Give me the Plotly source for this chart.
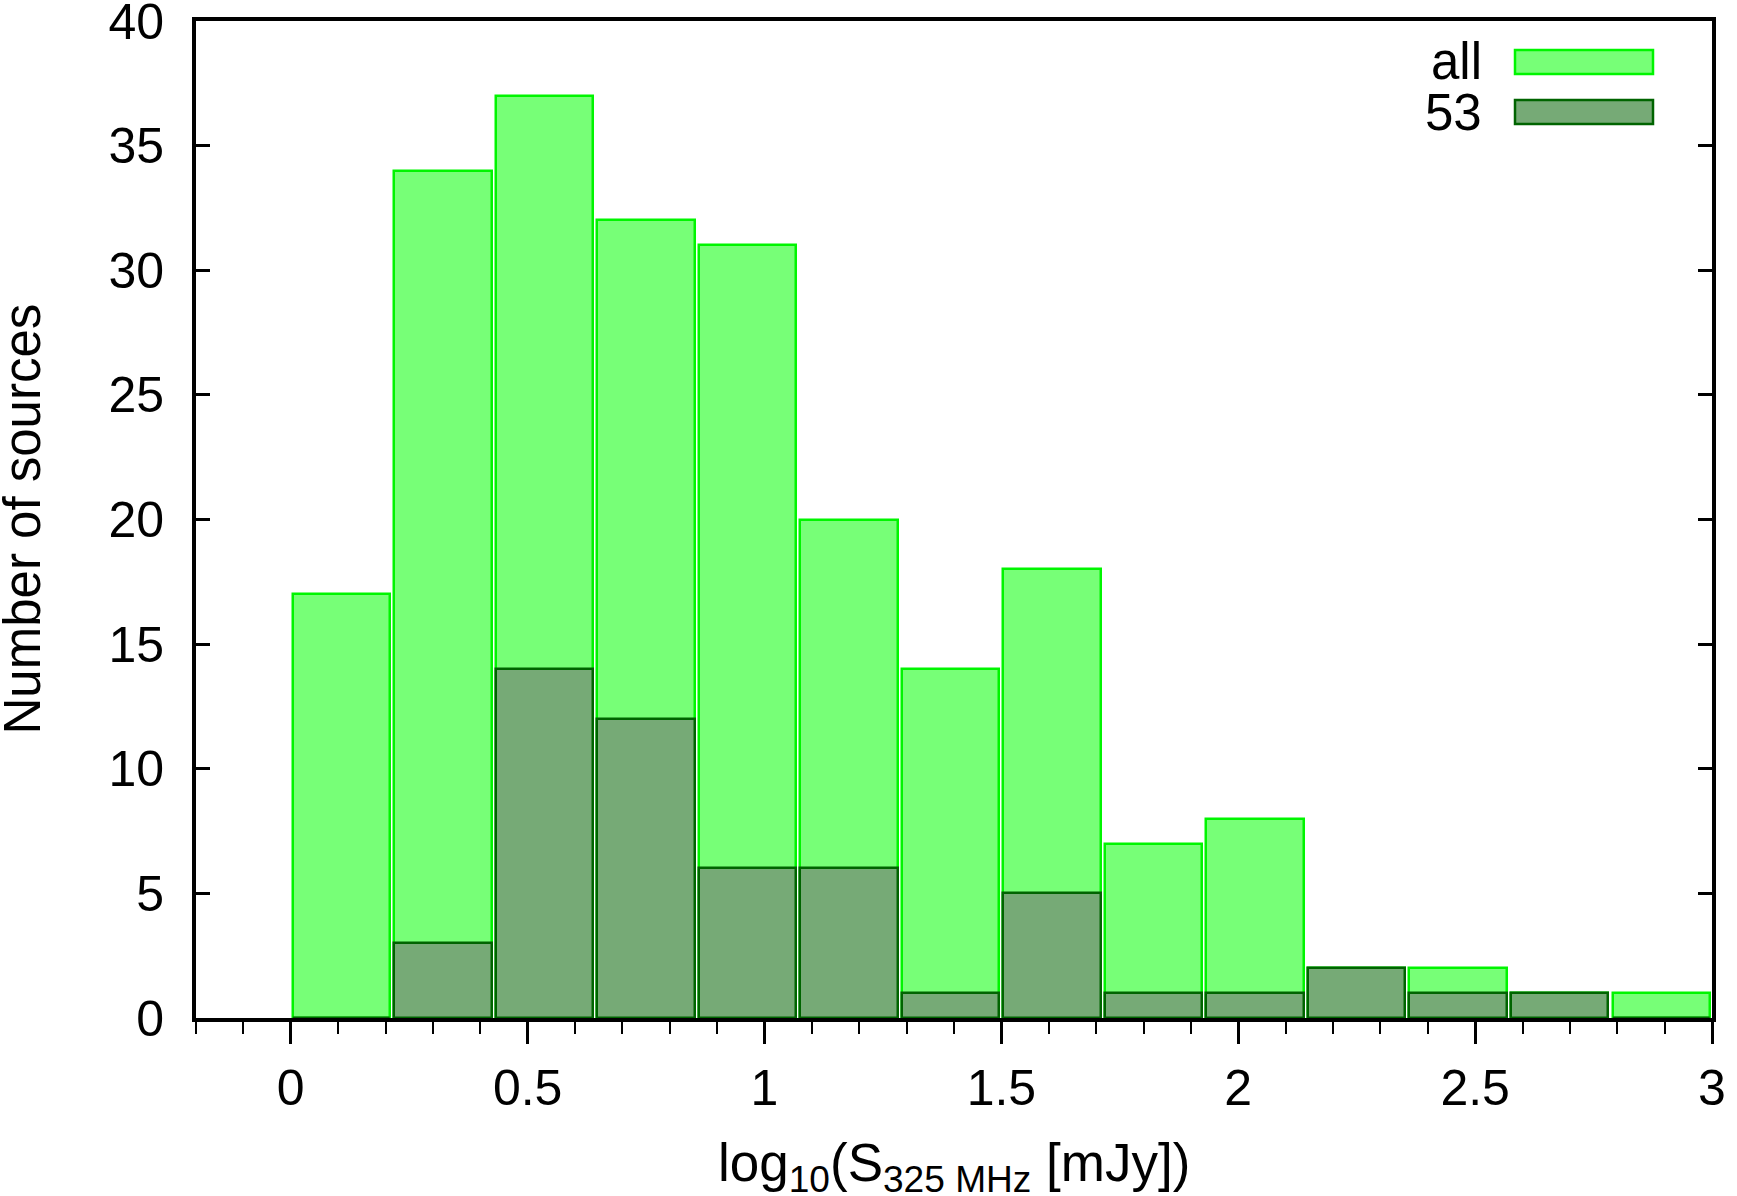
import plotly.graph_objects as go

# Histogram data (14 bins between 0 and 3)
bin_lo = 0.0
bin_hi = 3.0
n_bins = 14
counts_all = [17, 34, 37, 32, 31, 20, 14, 18, 7, 8, 2, 2, 1, 1]
counts_53 = [0, 3, 14, 12, 6, 6, 1, 5, 1, 1, 2, 1, 1, 0]
series_names = ["all", "53"]
x_title = "log<sub>10</sub>(S<sub>325 MHz</sub> [mJy])"
y_title = "Number of sources"

width = (bin_hi - bin_lo) / n_bins
centers = [bin_lo + (i + 0.5) * width for i in range(n_bins)]

FONT = "Liberation Sans, Arial, Helvetica, sans-serif"
fill_all = "rgb(119,255,119)"
line_all = "rgb(0,245,0)"
fill_53 = "rgb(118,170,118)"
line_53 = "rgb(0,100,0)"

fig = go.Figure()
fig.add_trace(go.Bar(x=centers, y=counts_all, width=[width * 0.96] * n_bins,
                     name=series_names[0],
                     marker=dict(color=fill_all, line=dict(color=line_all, width=2.5)),
                     showlegend=False))
fig.add_trace(go.Bar(x=centers, y=counts_53, width=[width * 0.96] * n_bins,
                     name=series_names[1],
                     marker=dict(color=fill_53, line=dict(color=line_53, width=2.5)),
                     showlegend=False))

# Plot area in screen px
W, H = 1737, 1196
PL, PR, PT, PB = 196, 1712, 21, 1018
def px(x):
    return (x - PL) / (PR - PL)
def py(y):
    return (PB - y) / (PB - PT)

# Manual legend (text to the left of swatch, gnuplot style)
legend_rows = [(series_names[0], fill_all, line_all, 62),
               (series_names[1], fill_53, line_53, 112)]
for name, fc, lc, yc in legend_rows:
    fig.add_annotation(xref="paper", yref="paper",
                       x=px(1484), y=py(yc),
                       text=name, showarrow=False, xanchor="right", yanchor="middle",
                       font=dict(family=FONT, size=51, color="black"))
    fig.add_shape(type="rect", xref="paper", yref="paper",
                  x0=px(1515), x1=px(1653), y0=py(yc + 12), y1=py(yc - 12),
                  fillcolor=fc, line=dict(color=lc, width=2.5))

# Axis titles as annotations (exact placement)
fig.add_annotation(xref="paper", yref="paper", x=px(22), y=0.5, text=y_title,
                   textangle=-90, showarrow=False, xanchor="center", yanchor="middle",
                   font=dict(family=FONT, size=51, color="black"))
fig.add_annotation(xref="paper", yref="paper", x=0.5, y=py(1131), text=x_title,
                   showarrow=False, xanchor="center", yanchor="top",
                   font=dict(family=FONT, size=53, color="black"))

fig.update_layout(
    width=W, height=H,
    barmode="overlay", bargap=0,
    plot_bgcolor="white", paper_bgcolor="white",
    margin=dict(l=PL, r=W - PR, t=PT, b=H - PB),
    font=dict(family=FONT, size=50, color="black"),
)
fig.update_xaxes(
    range=[-0.2, 3.0], tickvals=[0, 0.5, 1, 1.5, 2, 2.5, 3],
    ticktext=["0", "0.5", "1", "1.5", "2", "2.5", "3"],
    ticks="outside", ticklen=22, tickwidth=2.5, tickcolor="black",
    minor=dict(dtick=0.1, tick0=0, ticks="outside", ticklen=12, tickwidth=2, tickcolor="black"),
    showline=True, linecolor="black", linewidth=4, mirror=True,
    showgrid=False, zeroline=False,
    ticklabelstandoff=1, ticklabeloverflow="allow",
    automargin=False,
)
fig.update_yaxes(
    range=[0, 40], tickvals=[0, 5, 10, 15, 20, 25, 30, 35, 40],
    ticks="inside", ticklen=14, tickwidth=2.5, tickcolor="black",
    showline=True, linecolor="black", linewidth=4, mirror="ticks",
    showgrid=False, zeroline=False,
    ticklabelstandoff=18, ticklabeloverflow="allow",
    automargin=False,
)

fig.write_html("out.html", config={"displayModeBar": False},
               post_script="document.body.style.margin='0px';")
